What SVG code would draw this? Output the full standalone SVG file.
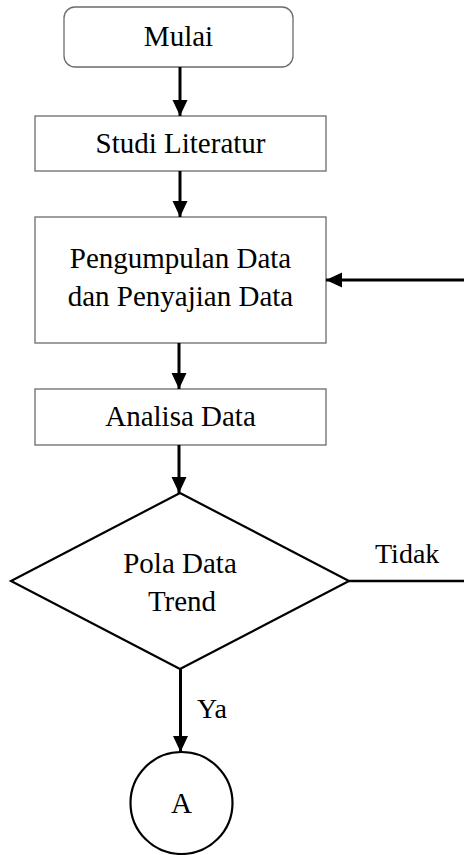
<svg xmlns="http://www.w3.org/2000/svg" width="464" height="855" viewBox="0 0 464 855">
  <style>
    .box { fill: #ffffff; stroke: #6b6b6b; stroke-width: 1.3; }
    .shape { fill: #ffffff; stroke: #000000; stroke-width: 2.2; }
    .label { font-family: "Liberation Serif", "Times New Roman", serif; font-size: 29px; fill: #000000; text-anchor: middle; }
    .side { font-family: "Liberation Serif", "Times New Roman", serif; font-size: 28px; fill: #000000; }
    .flow { fill: none; stroke: #000000; stroke-width: 3; }
    .plain { fill: none; stroke: #000000; stroke-width: 2.6; }
  </style>
  <defs>
    <marker id="head" markerUnits="userSpaceOnUse" markerWidth="16" markerHeight="16" viewBox="0 0 16 16" refX="16" refY="8" orient="auto">
      <polygon points="0,0.5 16,8 0,15.5" fill="#000000"/>
    </marker>
  </defs>

  <g id="mulai">
    <rect class="box" x="64" y="7" width="229" height="60" rx="11" ry="11"/>
    <text class="label" x="178.5" y="46">Mulai</text>
  </g>

  <g id="studi-literatur">
    <rect class="box" x="35" y="116" width="291" height="55"/>
    <text class="label" x="180.5" y="153">Studi Literatur</text>
  </g>

  <g id="pengumpulan-data">
    <rect class="box" x="35" y="217" width="291" height="126"/>
    <text class="label" x="180.5" y="268">Pengumpulan Data</text>
    <text class="label" x="180.5" y="306">dan Penyajian Data</text>
  </g>

  <g id="analisa-data">
    <rect class="box" x="35" y="389" width="291" height="56"/>
    <text class="label" x="180.5" y="426">Analisa Data</text>
  </g>

  <g id="pola-data-trend">
    <polygon class="shape" points="180,493 349,581 180,669 11,581"/>
    <text class="label" x="180" y="573">Pola Data</text>
    <text class="label" x="182" y="611">Trend</text>
  </g>

  <g id="konektor-a">
    <circle class="shape" cx="181.5" cy="803" r="51"/>
    <text class="label" x="181.5" y="813">A</text>
  </g>

  <g id="connectors">
    <line class="flow" x1="180" y1="67" x2="180" y2="116" marker-end="url(#head)"/>
    <line class="flow" x1="180" y1="171" x2="180" y2="217" marker-end="url(#head)"/>
    <line class="flow" x1="179" y1="343" x2="179" y2="389" marker-end="url(#head)"/>
    <line class="flow" x1="179" y1="445" x2="179" y2="493" marker-end="url(#head)"/>
    <line class="flow" x1="180.5" y1="669" x2="180.5" y2="752" marker-end="url(#head)"/>
    <line class="plain" x1="349" y1="581" x2="464" y2="581"/>
    <line class="flow" x1="464" y1="280" x2="326" y2="280" marker-end="url(#head)"/>
    <text class="side" x="375" y="563">Tidak</text>
    <text class="side" x="197" y="718">Ya</text>
  </g>
</svg>
